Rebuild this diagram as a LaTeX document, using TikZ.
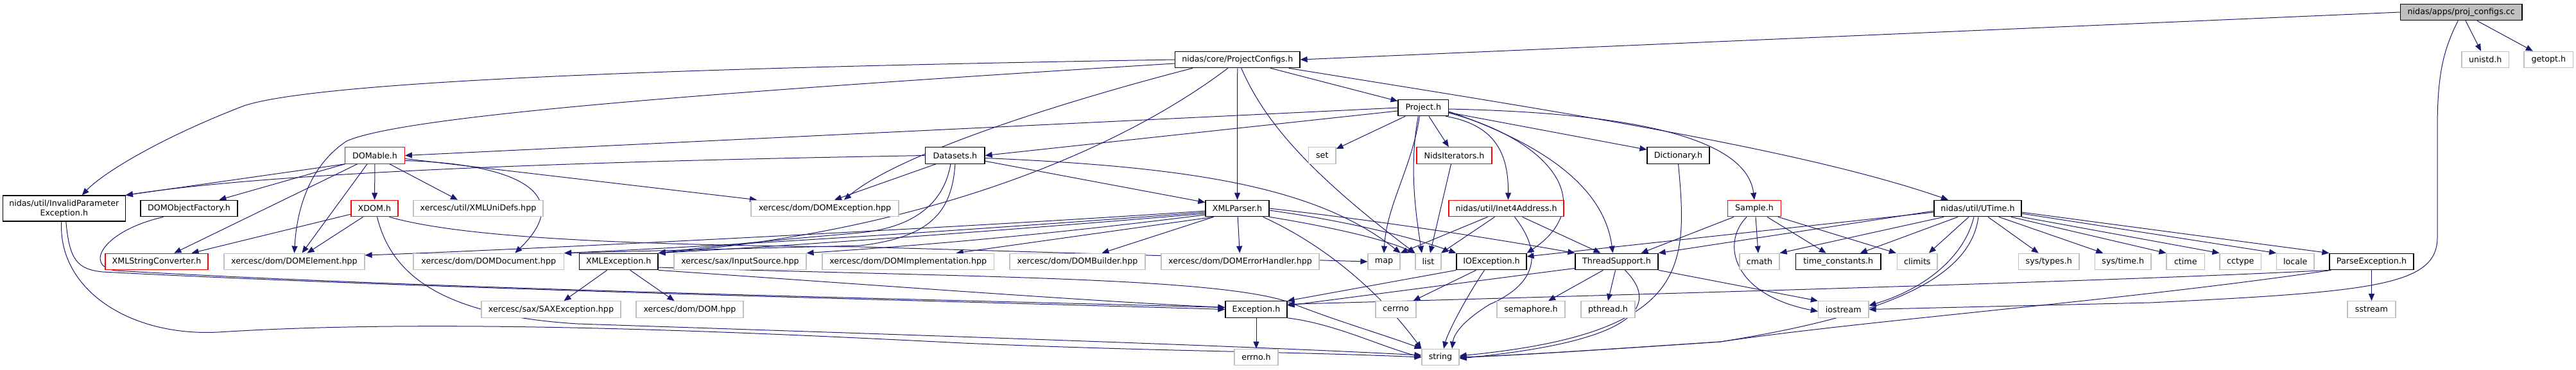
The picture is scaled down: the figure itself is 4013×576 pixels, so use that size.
\documentclass[tikz,border=0pt]{standalone}
\usepackage{fontspec}
\setmainfont{DejaVu Sans}
\usetikzlibrary{arrows.meta,calc}
\definecolor{edgec}{HTML}{191970}
\definecolor{extc}{HTML}{BFBFBF}
\definecolor{truncc}{HTML}{FF0000}
\definecolor{rootc}{HTML}{BFBFBF}
\pgfdeclarelayer{bg}
\pgfsetlayers{bg,main}
\begin{document}
\begin{tikzpicture}[x=1pt,y=-1pt,
  nb/.style={draw=black,line width=1.2pt,rectangle,inner sep=0pt,minimum height=25.5pt,font=\fontsize{12.7pt}{15pt}\selectfont,fill=white},
  ext/.style={nb,draw=extc},
  trunc/.style={nb,draw=truncc},
  conn/.style={draw=edgec,line width=1pt,-{Triangle[length=11pt,width=9pt]}}
]
\useasboundingbox (0,0) rectangle (4013,576);
% row 0
\node[nb,fill=rootc,minimum width=189.6pt] (pc) at (3834.2,19) {nidas/apps/proj\_configs.cc};
% row 1
\node[nb,minimum width=194.5pt] (pcfg) at (1927.75,93) {nidas/core/ProjectConfigs.h};
\node[ext,minimum width=73.5pt] (unistd) at (3871.75,93) {unistd.h};
\node[ext,minimum width=76.7pt] (getopt) at (3970.35,93) {getopt.h};
% row 2
\node[nb,minimum width=78.6pt] (proj) at (2217.3,168) {Project.h};
% row 3
\node[trunc,minimum width=92.7pt] (domable) at (584,242.5) {DOMable.h};
\node[nb,minimum width=92.3pt] (datasets) at (1487.9,242.5) {Datasets.h};
\node[ext,minimum width=42.4pt] (set) at (2059.8,242.5) {set};
\node[trunc,minimum width=117pt] (nids) at (2265.5,242.5) {NidsIterators.h};
\node[nb,minimum width=97pt] (dict) at (2614.5,242.5) {Dictionary.h};
% row 4
\node[nb,minimum width=191pt,minimum height=40pt,align=center] (ipe) at (99.8,325) {nidas/util/InvalidParameter\\Exception.h};
\node[nb,minimum width=151pt] (dof) at (294.5,325) {DOMObjectFactory.h};
\node[trunc,minimum width=73pt] (xdom) at (583.5,325) {XDOM.h};
\node[ext,minimum width=202pt] (unidefs) at (745,325) {xercesc/util/XMLUniDefs.hpp};
\node[ext,minimum width=230pt] (domexc) at (1285,325) {xercesc/dom/DOMException.hpp};
\node[nb,minimum width=99pt] (xmlparser) at (1927.5,325) {XMLParser.h};
\node[trunc,minimum width=179pt] (inet) at (2346.5,325) {nidas/util/Inet4Address.h};
\node[trunc,minimum width=83pt] (sample) at (2733,325) {Sample.h};
\node[nb,minimum width=136pt] (utime) at (3081,325) {nidas/util/UTime.h};
% row 5
\node[trunc,minimum width=160pt] (xsc) at (244,408) {XMLStringConverter.h};
\node[ext,minimum width=219pt] (domel) at (458.5,408) {xercesc/dom/DOMElement.hpp};
\node[ext,minimum width=234.5pt] (domdoc) at (761.25,408) {xercesc/dom/DOMDocument.hpp};
\node[nb,minimum width=122.6pt] (xmlexc) at (963.7,408) {XMLException.h};
\node[ext,minimum width=206pt] (insrc) at (1153,408) {xercesc/sax/InputSource.hpp};
\node[ext,minimum width=267.5pt] (domimpl) at (1414.75,408) {xercesc/dom/DOMImplementation.hpp};
\node[ext,minimum width=211pt] (dombuild) at (1678.5,408) {xercesc/dom/DOMBuilder.hpp};
\node[ext,minimum width=246pt] (domerr) at (1932,408) {xercesc/dom/DOMErrorHandler.hpp};
\node[ext,minimum width=50pt] (map) at (2156,408) {map};
\node[ext,minimum width=40pt] (list) at (2225,408) {list};
\node[nb,minimum width=109pt] (ioexc) at (2323.5,408) {IOException.h};
\node[nb,minimum width=129pt] (thread) at (2518.5,408) {ThreadSupport.h};
\node[ext,minimum width=62pt] (cmath) at (2741,408) {cmath};
\node[nb,minimum width=132.5pt] (timec) at (2863.75,408) {time\_constants.h};
\node[ext,minimum width=62.4pt] (climits) at (2986.8,408) {climits};
\node[ext,minimum width=94.5pt] (systypes) at (3191.75,408) {sys/types.h};
\node[ext,minimum width=87.3pt] (systime) at (3307.35,408) {sys/time.h};
\node[ext,minimum width=59.6pt] (ctime) at (3404.8,408) {ctime};
\node[ext,minimum width=64.5pt] (cctype) at (3490.25,408) {cctype};
\node[ext,minimum width=58.4pt] (locale) at (3575.8,408) {locale};
\node[nb,minimum width=131pt] (parseexc) at (3694.5,408) {ParseException.h};
% row 6
\node[ext,minimum width=217pt] (saxexc) at (858.5,482.5) {xercesc/sax/SAXException.hpp};
\node[ext,minimum width=167pt] (domhpp) at (1074.5,482.5) {xercesc/dom/DOM.hpp};
\node[nb,minimum width=96pt] (exc) at (1957,482.5) {Exception.h};
\node[ext,minimum width=63pt] (cerrno) at (2174.5,482.5) {cerrno};
\node[ext,minimum width=106pt] (sem) at (2385,482.5) {semaphore.h};
\node[ext,minimum width=84pt] (pthread) at (2505,482.5) {pthread.h};
\node[ext,minimum width=78.5pt] (iostream) at (2871.75,482.5) {iostream};
\node[ext,minimum width=75pt] (sstream) at (3694.5,482.5) {sstream};
% row 7
\node[ext,minimum width=68pt] (errno) at (1957,557) {errno.h};
\node[ext,minimum width=58pt] (string) at (2244,557) {string};

\begin{pgfonlayer}{bg}
% proj_configs.cc
\draw[conn] (pc.west) -- (pcfg.east);
\draw[conn] (pc) -- (unistd);
\draw[conn] (pc) -- (getopt);
\draw[conn] ([xshift=-5pt]pc.south) .. controls (3805,80) and (3797,120) .. (3797,200) -- (3797,370) .. controls (3797,445) and (3700,455) .. (3350,472) -- (iostream.east);
% ProjectConfigs.h
\draw[conn] (pcfg.west) .. controls (1100,105) and (500,125) .. (380,165) .. controls (250,215) and (160,270) .. ([xshift=28pt]ipe.north);
\draw[conn] ([yshift=-6pt]pcfg.west) .. controls (1000,150) and (620,185) .. (540,220) .. controls (480,260) and (462,330) .. (domel.north);
\draw[conn] ([xshift=-70pt]pcfg.south) .. controls (1650,160) and (1400,240) .. ([xshift=30pt]domexc.north);
\draw[conn] (pcfg) -- (xmlparser);
\draw[conn] ([xshift=-15pt]pcfg.south) .. controls (1750,230) and (1450,360) .. (xmlexc.north east);
\draw[conn] ([xshift=6pt]pcfg.south) .. controls (1970,190) and (2040,270) .. (list.north west);
\draw[conn] (pcfg) -- (proj);
\draw[conn] ([xshift=80pt]pcfg.south) .. controls (2400,170) and (2800,230) .. ([xshift=-46pt]utime.north);
% Project.h
\draw[conn] (proj.west) -- (domable.east);
\draw[conn] ([yshift=-5pt]proj.west) -- (datasets.east);
\draw[conn] (proj) -- (set);
\draw[conn] (proj) -- (nids);
\draw[conn] (proj) -- (dict);
\draw[conn] ([xshift=35pt]proj.south) .. controls (2330,195) and (2350,240) .. ([xshift=3pt]inet.north);
\draw[conn] ([xshift=-6pt]proj.south) .. controls (2200,260) and (2160,320) .. (map.north);
\draw[conn] ([xshift=-8pt]proj.south) .. controls (2195,260) and (2205,330) .. ([xshift=-10pt]list.north);
\draw[conn] ([yshift=-8pt]proj.east) .. controls (2420,220) and (2490,320) .. (ioexc.north east);
\draw[conn] ([yshift=-6pt]proj.east) .. controls (2420,230) and (2500,300) .. ([xshift=-6pt]thread.north);
\draw[conn] ([yshift=-2pt]proj.east) .. controls (2500,175) and (2720,205) .. (sample.north);
% InvalidParameterException.h, DOMObjectFactory.h
\draw[conn] ([xshift=3pt]ipe.south) .. controls (108,405) and (120,420) .. (160,424) .. controls (700,452) and (1500,470) .. (exc.west);
\draw[conn] ([xshift=-4pt]ipe.south) .. controls (90,450) and (200,525) .. (340,518) .. controls (700,495) and (1200,520) .. (1500,535) .. controls (1800,548) and (2000,548) .. (string.west);
\draw[conn] ([xshift=-40pt]dof.south) .. controls (160,360) and (130,415) .. (180,422) .. controls (700,452) and (1500,468) .. ([yshift=3pt]exc.west);
% DOMable.h
\draw[conn] (domable.south west) -- (ipe.north east);
\draw[conn] (domable) -- (dof);
\draw[conn] (domable) -- (xsc);
\draw[conn] ([xshift=-12pt]domable.south) -- ([xshift=12pt]domel.north);
\draw[conn] (domable) -- (xdom);
\draw[conn] ([xshift=23pt]domable.south) -- ([xshift=-32pt]unidefs.north);
\draw[conn] ([yshift=-5pt]domable.east) -- ([xshift=-106pt]domexc.north);
\draw[conn] ([yshift=-8pt]domable.east) .. controls (800,255) and (900,300) .. ([xshift=41pt]domdoc.north);
% XDOM.h
\draw[conn] (xdom) -- (xsc);
\draw[conn] ([xshift=-18pt]xdom.south) -- ([xshift=20pt]domel.north);
\draw[conn] ([xshift=4pt]xdom.south) .. controls (610,430) and (690,492) .. (900,505) .. controls (1500,525) and (1950,540) .. ([yshift=3pt]string.west);
\draw[conn] ([xshift=23pt]xdom.south) .. controls (700,365) and (900,382) .. (1340,385) -- (map.west);
% Datasets.h
\draw[conn] (datasets.west) .. controls (1000,250) and (450,265) .. (ipe.north east);
\draw[conn] ([xshift=-30pt]datasets.south) -- ([xshift=15pt]domexc.north);
\draw[conn] (datasets) -- (xmlparser);
\draw[conn] ([yshift=-4pt]datasets.east) .. controls (1850,260) and (2050,290) .. (map.north east);
\draw[conn] ([xshift=-7pt]datasets.south) .. controls (1470,320) and (1420,355) .. (1340,363) .. controls (1200,375) and (1100,385) .. (xmlexc.north east);
\draw[conn] (datasets.south) .. controls (1483,330) and (1450,370) .. (1340,383) -- (domdoc.north east);
% XMLParser.h
\draw[conn] ([yshift=-4pt]xmlparser.west) .. controls (1500,355) and (800,390) .. ([yshift=10pt]domel.east);
\draw[conn] ([yshift=-6pt]xmlparser.west) .. controls (1500,360) and (1100,385) .. (domdoc.north east);
\draw[conn] ([yshift=-8pt]xmlparser.west) .. controls (1500,365) and (1200,385) .. (xmlexc.north east);
\draw[conn] ([yshift=-10pt]xmlparser.west) .. controls (1600,370) and (1400,385) .. (insrc.north east);
\draw[conn] ([xshift=-37pt]xmlparser.south) -- ([xshift=75pt]domimpl.north);
\draw[conn] ([xshift=-37pt]xmlparser.south) -- ([xshift=38pt]dombuild.north);
\draw[conn] (xmlparser) -- (domerr);
\draw[conn] (xmlparser.south east) .. controls (2050,350) and (2150,370) .. (list.north west);
\draw[conn] ([yshift=-3pt]xmlparser.east) .. controls (2100,345) and (2200,370) .. (ioexc.north west);
\draw[conn] (xmlparser.east) .. controls (2200,350) and (2400,385) .. (thread.north west);
\draw[conn] ([xshift=-10pt]xmlparser.south east) .. controls (2080,390) and (2160,470) .. (string.north west);
% NidsIterators.h
\draw[conn] ([xshift=-5pt]nids.south) -- ([xshift=3pt]list.north);
% Inet4Address.h
\draw[conn] ([xshift=-29pt]inet.south) -- (map.north east);
\draw[conn] ([xshift=-18pt]inet.south) -- ([xshift=20pt]list.north);
\draw[conn] ([xshift=13pt]inet.south) .. controls (2400,390) and (2400,440) .. (2320,475) .. controls (2280,500) and (2265,520) .. ([xshift=18pt]string.north);
\draw[conn] ([xshift=25pt]inet.south) -- ([xshift=-25pt]thread.north);
% IOException.h
\draw[conn] (ioexc.south west) -- (exc.north east);
\draw[conn] ([xshift=-24pt]ioexc.south) -- ([xshift=27pt]cerrno.north);
\draw[conn] ([xshift=-11pt]ioexc.south) .. controls (2280,470) and (2255,520) .. ([xshift=5pt]string.north);
% ThreadSupport.h
\draw[conn] ([yshift=3pt]thread.south west) -- ([yshift=6pt]exc.east);
\draw[conn] ([xshift=-21pt]thread.south) -- ([xshift=27pt]sem.north);
\draw[conn] ([xshift=-2pt]thread.south) -- (pthread.north);
\draw[conn] ([xshift=13pt]thread.south) .. controls (2580,470) and (2570,530) .. ([yshift=-2pt]string.east);
\draw[conn] (thread.south east) -- (iostream.north west);
% Dictionary.h
\draw[conn] (dict.south) .. controls (2630,420) and (2630,520) .. ([yshift=2pt]string.east);
% Sample.h
\draw[conn] ([xshift=-32pt]sample.south) -- ([xshift=38pt]thread.north);
\draw[conn] ([xshift=2pt]sample.south) -- ([xshift=-2pt]cmath.north);
\draw[conn] ([xshift=20pt]sample.south) -- ([xshift=-19pt]timec.north);
\draw[conn] ([xshift=37pt]sample.south) -- ([xshift=-33pt]climits.north);
\draw[conn] ([xshift=-12pt]sample.south) .. controls (2680,380) and (2700,460) .. ([yshift=-3pt]iostream.west);
% UTime.h
\draw[conn] ([yshift=-4pt]utime.west) -- (thread.north east);
\draw[conn] ([yshift=-6pt]utime.west) -- ([yshift=8pt]ioexc.east);
\draw[conn] ([xshift=-53pt]utime.south) -- (cmath.north east);
\draw[conn] ([xshift=-31pt]utime.south) -- ([xshift=34pt]timec.north);
\draw[conn] ([xshift=-14pt]utime.south) -- ([xshift=18pt]climits.north);
\draw[conn] ([xshift=-6pt]utime.south) .. controls (3060,400) and (3000,450) .. ([yshift=6pt]iostream.east);
\draw[conn] ([xshift=1pt]utime.south) .. controls (3070,430) and (2950,490) .. (2680,533) .. controls (2500,545) and (2350,555) .. (string.east);
\draw[conn] ([xshift=16pt]utime.south) -- ([xshift=-16pt]systypes.north);
\draw[conn] ([xshift=33pt]utime.south) -- ([xshift=-31pt]systime.north);
\draw[conn] ([xshift=52pt]utime.south) -- (ctime.north west);
\draw[conn] (utime.south east) -- (cctype.north west);
\draw[conn] ([yshift=-8pt]utime.east) -- (locale.north west);
\draw[conn] ([yshift=-6pt]utime.east) -- (parseexc.north west);
% ParseException.h
\draw[conn] (parseexc.south west) .. controls (3300,438) and (2700,455) .. ([yshift=8pt]exc.east);
\draw[conn] ([xshift=3pt]parseexc.south west) .. controls (3300,470) and (2900,500) .. (2680,533) .. controls (2500,545) and (2350,555) .. (string.east);
\draw[conn] (parseexc) -- (sstream);
% XMLException.h
\draw[conn] ([xshift=-18pt]xmlexc.south) -- ([xshift=20pt]saxexc.north);
\draw[conn] ([xshift=18pt]xmlexc.south) -- ([xshift=-24pt]domhpp.north);
\draw[conn] (xmlexc.south east) .. controls (1300,440) and (1700,470) .. ([yshift=3pt]exc.west);
\draw[conn] ([yshift=-9pt]xmlexc.east) .. controls (1500,432) and (1900,432) .. (2010,472) .. controls (2080,500) and (2150,520) .. (string.north west);
% Exception.h
\draw[conn] (exc) -- (errno);
\draw[conn] (exc.south east) .. controls (2080,505) and (2150,540) .. (string.west);
\end{pgfonlayer}
\end{tikzpicture}
\end{document}
